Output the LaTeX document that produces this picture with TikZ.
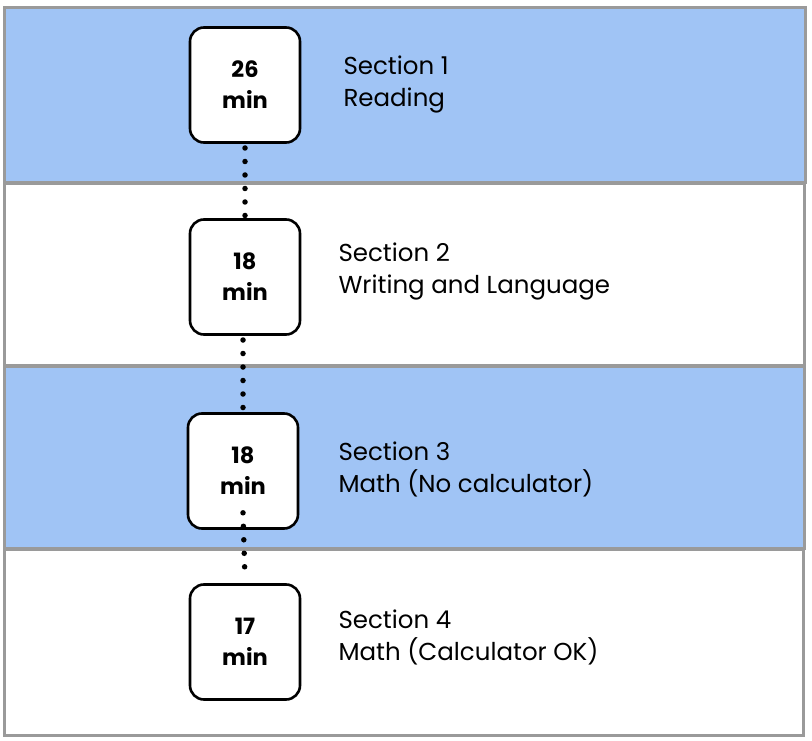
\documentclass[tikz,border=0pt]{standalone}
\usepackage{fontspec}
\setmainfont{Poppins}
\definecolor{bandblue}{HTML}{A0C4F5}
\definecolor{bandgray}{HTML}{9A9A9A}
\begin{document}
\begin{tikzpicture}[x=1pt,y=-1pt,
  band/.style={draw=bandgray,line width=3pt},
  timebox/.style={draw=black,fill=white,line width=2.6pt,rounded corners=14pt,
    minimum width=110pt,minimum height=115pt,align=center,
    font=\fontsize{22.5}{31}\selectfont\bfseries},
  label/.style={anchor=west,align=left,font=\fontsize{24.5}{32}\selectfont},
  dots/.style={line width=5.5pt,line cap=round,dash pattern=on 0pt off 13.5pt}]
\useasboundingbox (0,0) rectangle (812,741);
\fill[white] (0,0) rectangle (812,741);
\draw[band,fill=bandblue] (4,8) rectangle (805,183);
\draw[band,fill=white] (4,184) rectangle (804,365);
\draw[band,fill=bandblue] (4,366) rectangle (804,548);
\draw[band,fill=white] (4,549) rectangle (803,735);
% connectors behind boxes
\coordinate (c1) at (245,85);
\coordinate (c2) at (245,277);
\coordinate (c3) at (243,471);
\coordinate (c4) at (245,642);
\draw[dots] (245,148) -- (245,216);
\draw[dots] (243,340) -- (243,410);
\node[timebox] (b1) at (c1) {26\\min};
\node[timebox] (b2) at (c2) {18\\min};
\node[timebox] (b3) at (c3) {18\\min};
\node[timebox] (b4) at (c4) {17\\min};
\draw[dots] ([yshift=17pt]b3.south) -- ([yshift=4pt]b4.north);
\node[label] (l1) at (340,84) {Section 1\\Reading};
\node[label] (l2) at (335,271) {Section 2\\Writing and Language};
\node[label] (l3) at (335,469) {Section 3\\Math (No calculator)};
\node[label] (l4) at (335,637) {Section 4\\Math (Calculator OK)};
\end{tikzpicture}
\end{document}
